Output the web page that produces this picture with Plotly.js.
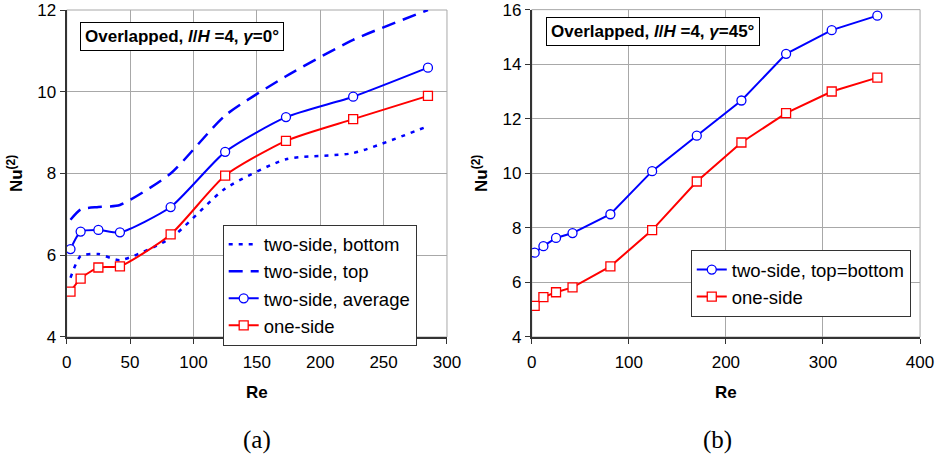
<!DOCTYPE html>
<html>
<head>
<meta charset="utf-8">
<script src="https://cdn.plot.ly/plotly-3.0.1.min.js"></script>
<style>html,body{margin:0;padding:0;background:#fff;}#chart{width:942px;height:470px;}</style>
</head>
<body>
<div id="chart"></div>
<script>
// ---- Data: panel (a), gamma = 0 deg ----
const reA = [3, 11, 25, 42, 82, 125, 173, 226, 285];
const bottomA = [5.45, 5.98, 6.03, 5.88, 6.42, 7.63, 8.35, 8.50, 9.16];
const topA = [6.87, 7.12, 7.18, 7.23, 8.00, 9.42, 10.38, 11.27, 12.00];
const averageA = [6.15, 6.58, 6.62, 6.56, 7.18, 8.53, 9.38, 9.88, 10.59];
const oneSideA = [5.11, 5.43, 5.70, 5.73, 6.51, 7.95, 8.80, 9.33, 9.90];

// ---- Data: panel (b), gamma = 45 deg ----
const reB = [3, 12, 25, 42, 81, 124, 170, 216, 262, 309, 356];
const twoSideB = [7.09, 7.33, 7.63, 7.81, 8.50, 10.08, 11.38, 12.67, 14.38, 15.25, 15.78];
const oneSideB = [5.14, 5.46, 5.64, 5.82, 6.59, 7.92, 9.70, 11.13, 12.21, 13.00, 13.51];

// ---- Tick values ----
const xTicksA = [0, 50, 100, 150, 200, 250, 300];
const yTicksA = [4, 6, 8, 10, 12];
const xTicksB = [0, 100, 200, 300, 400];
const yTicksB = [4, 6, 8, 10, 12, 14, 16];

const namesA = ['two-side, bottom', 'two-side, top', 'two-side, average', 'one-side'];
const namesB = ['two-side, top=bottom', 'one-side'];

const BLUE = '#0000ff', RED = '#ff0000';
const FONT = 'Liberation Sans, Arial, sans-serif';

const traces = [
  {x: reA, y: bottomA, name: namesA[0], mode: 'lines', line: {color: BLUE, width: 2.5, dash: '4px,6px', shape: 'spline', smoothing: 0.6}, xaxis: 'x', yaxis: 'y', legend: 'legend'},
  {x: reA, y: topA, name: namesA[1], mode: 'lines', line: {color: BLUE, width: 2.5, dash: '14px,8px', shape: 'spline', smoothing: 0.6}, xaxis: 'x', yaxis: 'y', legend: 'legend'},
  {x: reA, y: averageA, name: namesA[2], mode: 'lines+markers', line: {color: BLUE, width: 2, shape: 'spline', smoothing: 0.6}, marker: {symbol: 'circle', size: 9, color: '#fff', line: {color: BLUE, width: 1.3}}, xaxis: 'x', yaxis: 'y', legend: 'legend'},
  {x: reA, y: oneSideA, name: namesA[3], mode: 'lines+markers', line: {color: RED, width: 2, shape: 'spline', smoothing: 0.6}, marker: {symbol: 'square', size: 9, color: '#fff', line: {color: RED, width: 1.3}}, xaxis: 'x', yaxis: 'y', legend: 'legend'},
  {x: reB, y: twoSideB, name: namesB[0], mode: 'lines+markers', line: {color: BLUE, width: 2}, marker: {symbol: 'circle', size: 9, color: '#fff', line: {color: BLUE, width: 1.3}}, xaxis: 'x2', yaxis: 'y2', legend: 'legend2'},
  {x: reB, y: oneSideB, name: namesB[1], mode: 'lines+markers', line: {color: RED, width: 2}, marker: {symbol: 'square', size: 9, color: '#fff', line: {color: RED, width: 1.3}}, xaxis: 'x2', yaxis: 'y2', legend: 'legend2'}
];

const axisCommon = {
  showline: true, linecolor: '#333', linewidth: 2,
  showgrid: true, gridcolor: '#a8a8a8', gridwidth: 1,
  zeroline: false, ticks: 'outside', ticklen: 5, tickwidth: 1, tickcolor: '#333',
  tickmode: 'array',
  tickfont: {family: FONT, size: 17, color: '#000'}
};
const xTitle = {text: '<b>Re</b>', font: {family: FONT, size: 17, color: '#000'}, standoff: 15};
const yTitle = {text: '<b>Nu<sup>(2)</sup></b>', font: {family: FONT, size: 17, color: '#000'}, standoff: 10};

const legendCommon = {
  bgcolor: '#fff', bordercolor: '#333', borderwidth: 1,
  font: {family: FONT, size: 18.5, color: '#000'},
  itemwidth: 30, tracegroupgap: 0, xanchor: 'left', yanchor: 'top'
};

const domBTop = 0.9795;

const layout = {
  width: 942, height: 470,
  margin: {l: 0, r: 0, t: 0, b: 0},
  paper_bgcolor: '#fff', plot_bgcolor: '#fff',
  showlegend: true,
  xaxis: Object.assign({}, axisCommon, {domain: [0.0708, 0.4745], range: [0, 300.01], tickvals: xTicksA, ticklabelstandoff: 4, title: xTitle, anchor: 'y'}),
  yaxis: Object.assign({}, axisCommon, {domain: [0.283, 0.9787], range: [4, 12.001], tickvals: yTicksA, title: yTitle, anchor: 'x'}),
  xaxis2: Object.assign({}, axisCommon, {domain: [0.5645, 0.9767], range: [0, 400.01], tickvals: xTicksB, ticklabelstandoff: 4, title: xTitle, anchor: 'y2'}),
  yaxis2: Object.assign({}, axisCommon, {domain: [0.283, domBTop], range: [4, 16.001], tickvals: yTicksB, title: yTitle, anchor: 'x2'}),
  legend: Object.assign({}, legendCommon, {x: 0.2364, y: 0.522}),
  legend2: Object.assign({}, legendCommon, {x: 0.7333, y: 0.468}),
  shapes: [
    {type: 'rect', xref: 'paper', yref: 'paper', x0: 0.0708, x1: 0.4745, y0: 0.283, y1: 0.9787, line: {color: '#a8a8a8', width: 1}, layer: 'below'},
    {type: 'rect', xref: 'paper', yref: 'paper', x0: 0.5645, x1: 0.9767, y0: 0.283, y1: domBTop, line: {color: '#a8a8a8', width: 1}, layer: 'below'}
  ],
  annotations: [
    {xref: 'paper', yref: 'paper', x: 0.1927, y: 0.9223, xanchor: 'center', yanchor: 'middle', showarrow: false,
     text: '<b>Overlapped, <i>l</i>/<i>H</i> =4, <i>γ</i>=0°</b>', font: {family: FONT, size: 17, color: '#000'},
     bgcolor: '#fff', bordercolor: '#000', borderwidth: 1, borderpad: 4},
    {xref: 'paper', yref: 'paper', x: 0.6927, y: 0.9336, xanchor: 'center', yanchor: 'middle', showarrow: false,
     text: '<b>Overlapped, <i>l</i>/<i>H</i> =4, <i>γ</i>=45°</b>', font: {family: FONT, size: 17, color: '#000'},
     bgcolor: '#fff', bordercolor: '#000', borderwidth: 1, borderpad: 4},
    {xref: 'paper', yref: 'paper', x: 0.2728, y: 1 - 440/470, xanchor: 'center', yanchor: 'middle', showarrow: false,
     text: '(a)', font: {family: 'Liberation Serif, Times New Roman, serif', size: 25, color: '#000'}},
    {xref: 'paper', yref: 'paper', x: 0.7622, y: 1 - 440/470, xanchor: 'center', yanchor: 'middle', showarrow: false,
     text: '(b)', font: {family: 'Liberation Serif, Times New Roman, serif', size: 25, color: '#000'}}
  ]
};

Plotly.newPlot('chart', traces, layout, {displayModeBar: false, staticPlot: true});
</script>
</body>
</html>
